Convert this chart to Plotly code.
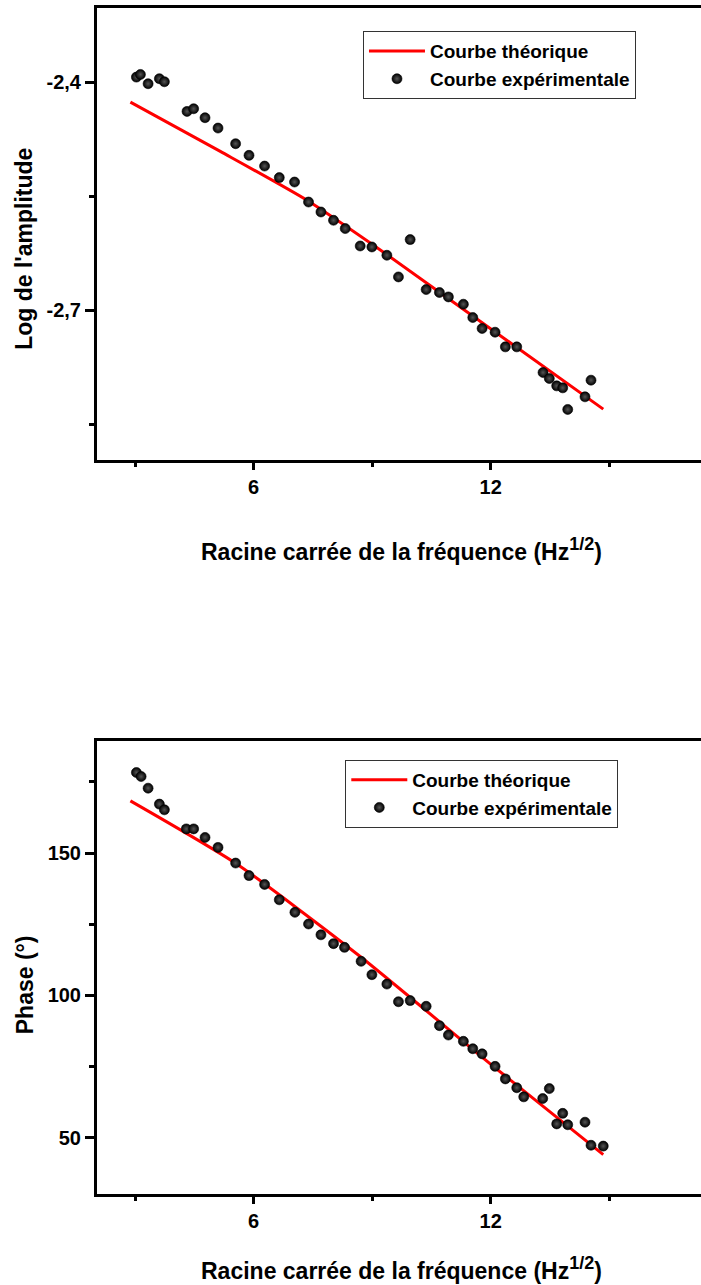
import plotly.graph_objects as go

# ---------------- data ----------------
amp_x = [3.035, 3.136, 3.331, 3.616, 3.743, 4.316, 4.483, 4.771, 5.10, 5.545,
         5.884, 6.278, 6.650, 7.036, 7.39, 7.704, 8.022, 8.318, 8.697, 8.993,
         9.372, 9.665, 9.961, 10.366, 10.702, 10.929, 11.308, 11.546, 11.781, 12.11,
         12.37, 12.658, 13.323, 13.482, 13.669, 13.821, 13.948, 14.385, 14.537]
amp_y = [-2.3934, -2.3899, -2.4021, -2.3955, -2.3995, -2.4385, -2.435, -2.4468, -2.4604, -2.481,
         -2.4963, -2.5104, -2.5256, -2.5314, -2.5577, -2.5708, -2.5817, -2.5926, -2.6155, -2.6168,
         -2.6277, -2.6562, -2.6071, -2.6728, -2.6767, -2.6825, -2.6921, -2.7096, -2.724, -2.7289,
         -2.7482, -2.7482, -2.7819, -2.7898, -2.7995, -2.8021, -2.8305, -2.8139, -2.792]

amp_th_x = [2.883, 5.158, 7.35, 9.279, 14.847]
amp_th_y = [-2.4263, -2.4911, -2.5554, -2.6234, -2.8301]

ph_x = [3.035, 3.154, 3.331, 3.616, 3.743, 4.298, 4.483, 4.771, 5.10, 5.545,
        5.884, 6.278, 6.650, 7.046, 7.39, 7.704, 8.022, 8.30, 8.72, 8.993,
        9.372, 9.665, 9.961, 10.366, 10.702, 10.929, 11.308, 11.546, 11.781, 12.11,
        12.37, 12.658, 12.835, 13.315, 13.482, 13.669, 13.821, 13.948, 14.385, 14.537,
        14.847]
ph_y = [178.3, 176.9, 172.8, 167.2, 165.2, 158.5, 158.5, 155.5, 152.0, 146.5,
        142.1, 139.0, 133.6, 129.2, 125.1, 121.3, 118.2, 116.9, 112.0, 107.3,
        104.0, 97.8, 98.2, 96.2, 89.4, 86.1, 83.9, 81.3, 79.5, 75.1,
        70.7, 67.6, 64.4, 63.8, 67.3, 54.9, 58.6, 54.6, 55.5, 47.4,
        47.1]

ph_th_x = [2.883, 5.537, 8.697, 12.067, 14.847]
ph_th_y = [168.35, 146.5, 113.7, 75.1, 44.1]

x_ticks = [6, 12]
x_ticktext = ["6", "12"]
amp_ticks = [-2.4, -2.7]
amp_ticktext = ["-2,4", "-2,7"]
ph_ticks = [50, 100, 150]
ph_ticktext = ["50", "100", "150"]

name_th = "Courbe théorique"
name_exp = "Courbe expérimentale"
x_title = ("Racine carrée de la fréquence (Hz"
           "<sup><span style='font-size:18px'>1/2</span></sup>)")
amp_title = "Log de l'amplitude"
ph_title = "Phase (°)"

# ---------------- layout geometry ----------------
W, H = 701, 1285
L, R, T, B = 96.5, 0, 7.5, 90.5
PW = W - L - R
PH = H - T - B


def px_x(p):
    return (p - L) / PW


def px_y(p):
    return (H - B - p) / PH


FONT = "Liberation Sans, Arial, sans-serif"

fig = go.Figure()

marker_style = dict(color="black", size=10,
                    gradient=dict(type="radial", color="#555555"),
                    line=dict(color="black", width=0.6))

fig.add_trace(go.Scatter(x=amp_th_x, y=amp_th_y, mode="lines", name=name_th,
                         line=dict(color="#ff0000", width=3, shape="spline", smoothing=0.6),
                         xaxis="x", yaxis="y", legend="legend"))
fig.add_trace(go.Scatter(x=amp_x, y=amp_y, mode="markers", name=name_exp,
                         marker=marker_style, xaxis="x", yaxis="y", legend="legend"))
fig.add_trace(go.Scatter(x=ph_th_x, y=ph_th_y, mode="lines", name=name_th,
                         line=dict(color="#ff0000", width=3, shape="spline", smoothing=0.6),
                         xaxis="x2", yaxis="y2", legend="legend2"))
fig.add_trace(go.Scatter(x=ph_x, y=ph_y, mode="markers", name=name_exp,
                         marker=marker_style, xaxis="x2", yaxis="y2", legend="legend2"))

tickfont = dict(family=FONT, size=20, color="black", weight="bold")

xaxis_common = dict(range=[2.038, 17.32], showline=True, linewidth=3, linecolor="black",
                    mirror=True, ticks="outside", ticklen=7, tickwidth=3, tickcolor="black",
                    tickvals=x_ticks, ticktext=x_ticktext, tickfont=tickfont,
                    showgrid=False, zeroline=False,
                    minor=dict(tickvals=[3, 9, 15], ticks="outside", ticklen=4,
                               tickwidth=3, tickcolor="black", showgrid=False))

top_dom = [px_y(459.5), 1.0]
bot_dom = [0.0, px_y(741.5)]

legend_font = dict(family=FONT, size=19, color="black", weight="bold")

fig.update_layout(
    width=W, height=H,
    margin=dict(l=L, r=R, t=T, b=B, pad=0),
    paper_bgcolor="white", plot_bgcolor="white",
    showlegend=True,
    xaxis=dict(domain=[0, 1], anchor="y", **xaxis_common),
    yaxis=dict(domain=top_dom, anchor="x", range=[-2.8965, -2.3025],
               showline=True, linewidth=3, linecolor="black", mirror=False,
               ticks="outside", ticklen=9, tickwidth=3, tickcolor="black",
               tickvals=amp_ticks, ticktext=amp_ticktext, tickfont=tickfont,
               showgrid=False, zeroline=False,
               minor=dict(tickvals=[-2.55, -2.85], ticks="outside", ticklen=5,
                          tickwidth=3, tickcolor="black", showgrid=False)),
    xaxis2=dict(domain=[0, 1], anchor="y2", **xaxis_common),
    yaxis2=dict(domain=bot_dom, anchor="x2", range=[30.28, 189.23],
                showline=True, linewidth=3, linecolor="black", mirror=False,
                ticks="outside", ticklen=9, tickwidth=3, tickcolor="black",
                tickvals=ph_ticks, ticktext=ph_ticktext, tickfont=tickfont,
                showgrid=False, zeroline=False,
                minor=dict(tickvals=[75, 125, 175], ticks="outside", ticklen=5,
                           tickwidth=3, tickcolor="black", showgrid=False)),
    legend=dict(x=px_x(362.7), y=px_y(30.7), xanchor="left", yanchor="top",
                bgcolor="white", bordercolor="#333333", borderwidth=1,
                font=legend_font, itemwidth=56, tracegroupgap=0),
    legend2=dict(x=px_x(345), y=px_y(760), xanchor="left", yanchor="top",
                 bgcolor="white", bordercolor="#333333", borderwidth=1,
                 font=legend_font, itemwidth=56, tracegroupgap=0),
)

title_font = dict(family=FONT, size=23, color="black", weight="bold")
annots = [
    dict(text=x_title, x=px_x(401), y=px_y(549), xref="paper", yref="paper",
         xanchor="center", yanchor="middle", showarrow=False, font=title_font),
    dict(text=x_title, x=px_x(401), y=px_y(1269), xref="paper", yref="paper",
         xanchor="center", yanchor="middle", showarrow=False, font=title_font),
    dict(text=amp_title, x=px_x(24), y=px_y(249), xref="paper", yref="paper",
         xanchor="center", yanchor="middle", textangle=-90, showarrow=False, font=title_font),
    dict(text=ph_title, x=px_x(24), y=px_y(985), xref="paper", yref="paper",
         xanchor="center", yanchor="middle", textangle=-90, showarrow=False, font=title_font),
]
fig.update_layout(annotations=annots)

fig.write_html("out.html")
